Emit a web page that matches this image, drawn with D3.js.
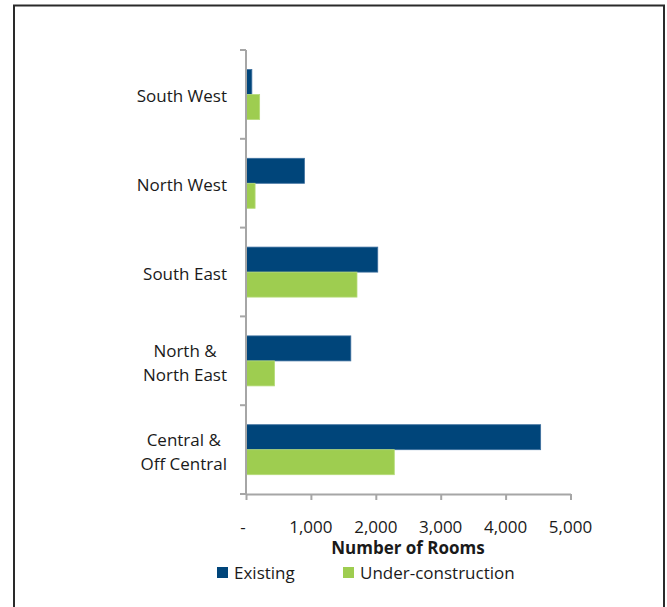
<!DOCTYPE html>
<html>
<head>
<meta charset="utf-8">
<script src="https://cdn.jsdelivr.net/npm/d3@7"></script>
<style>
  html, body { margin: 0; padding: 0; background: #fff; }
  svg text { font-family: "Open Sans", Lato, sans-serif; fill: #1a1a1a; }
</style>
</head>
<body>
<svg id="chart" width="667" height="607"></svg>
<script>
// Hotel room supply by region
const regions = ["South West", "North West", "South East", "North & North East", "Central & Off Central"];
const regionLines = [["South West"], ["North West"], ["South East"], ["North &", "North East"], ["Central &", "Off Central"]];
const existing = [90, 900, 2030, 1615, 4540];
const underConstruction = [210, 140, 1710, 440, 2285];
const seriesNames = ["Existing", "Under-construction"];
const xTicks = [0, 1000, 2000, 3000, 4000, 5000];
const xTickLabels = ["-", "1,000", "2,000", "3,000", "4,000", "5,000"];

const colors = ["#00457A", "#9ECD50"];
const strokes = ["#3D6F9E", "#B5DB78"];
const fontSize = 17;

const svg = d3.select("#chart");

// outer frame
svg.append("path")
  .attr("d", "M14,608 V5.5 H664 V608")
  .attr("fill", "none").attr("stroke", "#2a2a2a").attr("stroke-width", 2);

const x = d3.scaleLinear().domain([0, 5000]).range([246, 570.5]);
const y = d3.scaleBand().domain(regions).range([50, 494]);
const sub = d3.scaleBand().domain(seriesNames).range([19.5, 69.5]);

const values = [existing, underConstruction];

// bars
seriesNames.forEach((s, si) => {
  svg.append("g").selectAll("rect")
    .data(regions.map((r, i) => ({ r, v: values[si][i] })))
    .join("rect")
    .attr("x", x(0))
    .attr("y", d => y(d.r) + sub(s))
    .attr("width", d => x(d.v) - x(0))
    .attr("height", sub.bandwidth())
    .attr("fill", colors[si])
    .attr("stroke", strokes[si])
    .attr("stroke-width", 0.8);
});

// x axis
const xAxis = svg.append("g").attr("transform", "translate(0,494)")
  .call(d3.axisBottom(x).tickValues(xTicks).tickSize(6).tickSizeOuter(0).tickFormat(() => ""));
xAxis.select(".domain").attr("stroke", "#A6A6A6").attr("stroke-width", 2);
xAxis.selectAll(".tick line").attr("stroke", "#A6A6A6").attr("stroke-width", 2);

svg.append("g").selectAll("text")
  .data(xTicks)
  .join("text")
  .attr("x", (d, i) => i === 0 ? x(d) - 3 : x(d))
  .attr("y", 533)
  .attr("text-anchor", "middle")
  .attr("font-size", fontSize)
  .text((d, i) => xTickLabels[i]);

// y axis
const yBounds = regions.map(r => y(r)).concat([494]);
svg.append("line")
  .attr("x1", 246).attr("x2", 246).attr("y1", 50).attr("y2", 495)
  .attr("stroke", "#A6A6A6").attr("stroke-width", 2);
svg.append("g").selectAll("line")
  .data(yBounds)
  .join("line")
  .attr("x1", 240).attr("x2", 246)
  .attr("y1", d => d).attr("y2", d => d)
  .attr("stroke", "#A6A6A6").attr("stroke-width", 2);

// category labels, each block centred and right-aligned to the axis
const labelRight = 227;
regions.forEach((r, i) => {
  const lines = regionLines[i];
  const g = svg.append("g");
  const cy = y(r) + y.bandwidth() / 2;
  const lh = 24;
  const texts = lines.map((t, j) => g.append("text")
    .attr("y", cy + (j - (lines.length - 1) / 2) * lh + 8)
    .attr("font-size", fontSize)
    .attr("text-anchor", "middle")
    .text(t));
  const w = d3.max(texts, t => t.node().getComputedTextLength());
  texts.forEach(t => t.attr("x", labelRight - w / 2));
});

// axis title
svg.append("text")
  .attr("x", 408).attr("y", 554)
  .attr("text-anchor", "middle")
  .attr("font-size", fontSize).attr("font-weight", "bold")
  .text("Number of Rooms");

// legend
const legendX = [217, 343];
seriesNames.forEach((s, si) => {
  svg.append("rect")
    .attr("x", legendX[si]).attr("y", 567)
    .attr("width", 11).attr("height", 11)
    .attr("fill", colors[si]);
  svg.append("text")
    .attr("x", legendX[si] + 17).attr("y", 579)
    .attr("font-size", fontSize)
    .text(s);
});
</script>
</body>
</html>
